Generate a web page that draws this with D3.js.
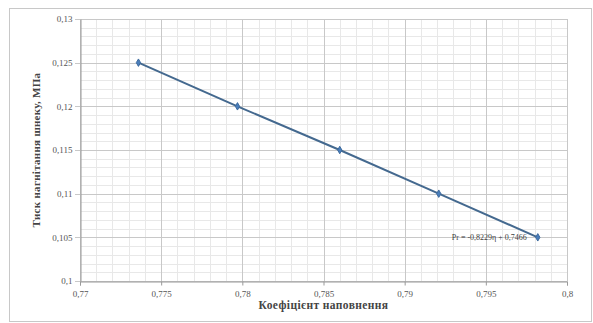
<!DOCTYPE html>
<html><head><meta charset="utf-8">
<script src="https://cdn.jsdelivr.net/npm/d3@7"></script>
<style>body{margin:0;background:#fff}svg{display:block}</style>
</head><body>
<svg id="c" width="593" height="323"></svg>
<script>
const xVals = [0.7736, 0.7797, 0.7860, 0.7921, 0.7982];
const yVals = [0.125, 0.12, 0.115, 0.11, 0.105];
const xTicks = [0.77, 0.775, 0.78, 0.785, 0.79, 0.795, 0.8];
const yTicks = [0.1, 0.105, 0.11, 0.115, 0.12, 0.125, 0.13];
const xTitle = "Коефіцієнт наповнення";
const yTitle = "Тиск нагнітання шнеку, МПа";
const eqText = "Pr = -0,8229η + 0,7466";

const svg = d3.select("#c");
const fmt = d => String(+d.toFixed(3)).replace(".", ",");
const m = {l:80, r:26, t:19, b:42};
const W = 593, H = 323;
const x = d3.scaleLinear().domain([0.77, 0.8]).range([m.l, W - m.r]);
const y = d3.scaleLinear().domain([0.1, 0.13]).range([H - m.b, m.t]);

svg.append("rect").attr("x", 9.5).attr("y", 8.5).attr("width", 582).attr("height", 313)
  .attr("fill", "#fff").attr("stroke", "#c8c8c8");

const g = svg.append("g");
const xMinor = d3.range(0, 31).map(i => 0.77 + i * 0.001);
const yMinor = d3.range(0, 31).map(i => 0.1 + i * 0.001);
g.selectAll(".xm").data(xMinor).join("line")
  .attr("x1", d => Math.round(x(d)) + 0.5).attr("x2", d => Math.round(x(d)) + 0.5)
  .attr("y1", y(0.1)).attr("y2", y(0.13)).attr("stroke", "#e8e8e8");
g.selectAll(".ym").data(yMinor).join("line")
  .attr("y1", d => Math.round(y(d)) + 0.5).attr("y2", d => Math.round(y(d)) + 0.5)
  .attr("x1", x(0.77)).attr("x2", x(0.8)).attr("stroke", "#e8e8e8");
g.selectAll(".xM").data(xTicks).join("line")
  .attr("x1", d => Math.round(x(d)) + 0.5).attr("x2", d => Math.round(x(d)) + 0.5)
  .attr("y1", y(0.1)).attr("y2", y(0.13)).attr("stroke", "#c8c8c8");
g.selectAll(".yM").data(yTicks).join("line")
  .attr("y1", d => Math.round(y(d)) + 0.5).attr("y2", d => Math.round(y(d)) + 0.5)
  .attr("x1", x(0.77) - 5).attr("x2", x(0.8)).attr("stroke", "#c8c8c8");
const xAxis = svg.append("g").attr("transform", `translate(0,${Math.round(y(0.1)) + 0.5})`)
  .call(d3.axisBottom(x).tickValues(xTicks).tickFormat(fmt).tickSize(4));
const yAxis = svg.append("g").attr("transform", `translate(${Math.round(x(0.77)) + 0.5},0)`)
  .call(d3.axisLeft(y).tickValues(yTicks).tickFormat(fmt).tickSize(0).tickPadding(8));
[xAxis, yAxis].forEach(a => {
  a.selectAll("path,line").attr("stroke", "#9a9a9a");
  a.selectAll("text").attr("font-family", "Liberation Serif").attr("font-size", 9).attr("fill", "#555");
});
xAxis.selectAll("text").attr("dy", "0.9em");

const line = d3.line().x((d, i) => x(xVals[i])).y(d => y(d));
svg.append("path").datum(yVals).attr("d", line).attr("fill", "none")
  .attr("stroke", "#44698f").attr("stroke-width", 2);
svg.selectAll(".pt").data(yVals).join("path")
  .attr("transform", (d, i) => `translate(${x(xVals[i])},${y(d)})`)
  .attr("d", d3.symbol(d3.symbolDiamond, 16)())
  .attr("fill", "#4a7ebb").attr("stroke", "#3d6a9e");

svg.append("text").attr("x", x(xVals[4]) - 11).attr("y", y(yVals[4]) + 3)
  .attr("text-anchor", "end").attr("font-family", "Liberation Serif").attr("font-size", 8)
  .attr("fill", "#404040").text(eqText);

svg.append("text").attr("x", (x(0.77) + x(0.8)) / 2).attr("y", 309)
  .attr("text-anchor", "middle").attr("font-family", "Liberation Serif").attr("font-weight", "bold")
  .attr("font-size", 11.5).attr("letter-spacing", 0.4).attr("fill", "#444").text(xTitle);
svg.append("text").attr("transform", `translate(40,${(y(0.1) + y(0.13)) / 2}) rotate(-90)`)
  .attr("text-anchor", "middle").attr("font-family", "Liberation Serif").attr("font-weight", "bold")
  .attr("font-size", 11).attr("letter-spacing", 0.3).attr("fill", "#444").text(yTitle);
</script>
</body></html>
